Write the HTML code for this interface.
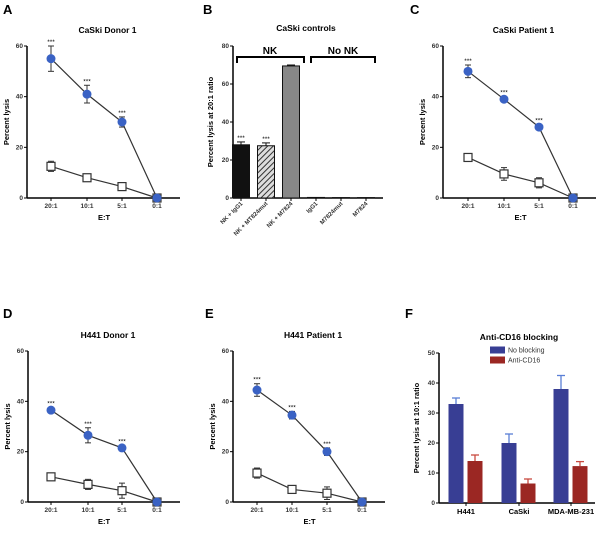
<!DOCTYPE html>
<html><head><meta charset="utf-8"><style>
body{margin:0;background:#fff;width:600px;height:534px;overflow:hidden}
svg{font-family:"Liberation Sans",sans-serif}
</style></head><body>
<svg id="fig" width="600" height="534" viewBox="0 0 600 534">
<defs><pattern id="hatch" width="4" height="4" patternUnits="userSpaceOnUse" patternTransform="rotate(45)"><rect width="4" height="4" fill="#ddd"/><line x1="0" y1="0" x2="0" y2="4" stroke="#333" stroke-width="2"/></pattern></defs>
</svg>
<script>
const etCats=["20:1","10:1","5:1","0:1"];
const aFilled=[55,41,30,0], aFilledErr=[5,3.5,2,0], aOpen=[12.5,8,4.5,0], aOpenErr=[2,1,1,0];
const cFilled=[50,39,28,0], cFilledErr=[2.5,1,1,0], cOpen=[16,9.5,6,0], cOpenErr=[1.5,2.5,2,0];
const dFilled=[36.5,26.5,21.5,0], dFilledErr=[1,3,1,0], dOpen=[10,7,4.5,0], dOpenErr=[1,2,3,0];
const eFilled=[44.5,34.5,20,0], eFilledErr=[2.5,1.5,1.5,0], eOpen=[11.5,5,3.5,0], eOpenErr=[2,1,2.5,0];
const lineTicks=[0,20,40,60];
const bCats=["NK + IgG1","NK + MT824mut","NK + M7824","IgG1","M7824mut","M7824"];
const bValues=[28,27.5,69.5,0.3,0.2,0.2], bErr=[1.5,1.5,0.5,0,0,0];
const bTicks=[0,20,40,60,80];
const fCats=["H441","CaSki","MDA-MB-231"];
const fNoBlock=[33,20,38], fNoBlockErr=[2,3,4.5];
const fAnti=[14,6.5,12.3], fAntiErr=[2,1.5,1.5];
const fTicks=[0,10,20,30,40,50];

const svg=document.getElementById('fig');
const NS="http://www.w3.org/2000/svg";
function el(tag,attrs,parent){const e=document.createElementNS(NS,tag);for(const k in attrs)e.setAttribute(k,attrs[k]);(parent||svg).appendChild(e);return e;}
function txt(s,attrs,parent){const t=el('text',attrs,parent);t.textContent=s;return t;}

function axes(g,x0,y0,yTop,xEnd,ticks,yMax,ylabel,ylx){
  const ys=v=>y0-(v/yMax)*(y0-yTop);
  const ya=el('line',{x1:x0,y1:yTop,x2:x0,y2:y0,stroke:'#000','stroke-width':1.5},g);
  
  const xa=el('line',{x1:x0,y1:y0,x2:xEnd,y2:y0,stroke:'#000','stroke-width':1.5},g);
  
  ticks.forEach(t=>{el('line',{x1:x0-3,y1:ys(t),x2:x0,y2:ys(t),stroke:'#000'},g);
    const l=txt(String(t),{x:x0-4,y:ys(t)+2,'font-size':6.5,'text-anchor':'end','font-weight':'bold','fill':'#333'},g);
    });
  const yl=txt(ylabel,{x:ylx,y:(y0+yTop)/2,'font-size':7.5,'font-weight':'bold','text-anchor':'middle',transform:`rotate(-90 ${ylx} ${(y0+yTop)/2})`},g);
  
  return ys;
}

function linePanel(name,letter,lx,ly,title,x0,y0,yTop,xs,filled,fe,open,oe){
  const g=el('g',{});
  const L=txt(letter,{x:lx,y:ly,'font-size':13,'font-weight':'bold'},g);
  const cx=(x0+xs[3]+23)/2+4;
  const T=txt(title,{x:cx,y:yTop-13,'font-size':8.5,'font-weight':'bold','text-anchor':'middle'},g);
  const ys=axes(g,x0,y0,yTop,xs[3]+23,lineTicks,60,'Percent lysis',x0-18);
  etCats.forEach((c,i)=>{el('line',{x1:xs[i],y1:y0,x2:xs[i],y2:y0+3,stroke:'#000'},g);
    const l=txt(c,{x:xs[i],y:y0+10,'font-size':6.5,'font-weight':'bold','text-anchor':'middle','fill':'#333'},g);});
  const xt=txt('E:T',{x:(xs[0]+xs[3])/2,y:y0+22,'font-size':7.5,'font-weight':'bold','text-anchor':'middle'},g);
  const lineO=el('polyline',{points:open.map((v,i)=>xs[i]+','+ys(v)).join(' '),fill:'none',stroke:'#333','stroke-width':1.2},g);
  
  const lineF=el('polyline',{points:filled.map((v,i)=>xs[i]+','+ys(v)).join(' '),fill:'none',stroke:'#333','stroke-width':1.2},g);
  
  open.forEach((v,i)=>{const e=oe[i];if(e>0){el('line',{x1:xs[i],y1:ys(v-e),x2:xs[i],y2:ys(v+e),stroke:'#333'},g);
      [v-e,v+e].forEach(w=>el('line',{x1:xs[i]-3,y1:ys(w),x2:xs[i]+3,y2:ys(w),stroke:'#333'},g));}
    const r=el('rect',{x:xs[i]-4,y:ys(v)-4,width:8,height:8,fill:'#fff',stroke:'#333','stroke-width':1.2},g);
    });
  filled.forEach((v,i)=>{const e=fe[i];if(e>0){el('line',{x1:xs[i],y1:ys(v-e),x2:xs[i],y2:ys(v+e),stroke:'#333'},g);
      [v-e,v+e].forEach(w=>el('line',{x1:xs[i]-3,y1:ys(w),x2:xs[i]+3,y2:ys(w),stroke:'#333'},g));}
    const c=el('circle',{cx:xs[i],cy:ys(v),r:4.5,fill:'#3a62c4'},g);
    if(i<3){const s=txt('***',{x:xs[i],y:ys(v+e)-2,'font-size':6.5,'text-anchor':'middle'},g);}});
}
linePanel('panel-a','A',3,14,'CaSki Donor 1',27,198,46,[51,87,122,157],aFilled,aFilledErr,aOpen,aOpenErr);
linePanel('panel-c','C',410,14,'CaSki Patient 1',443,198,46,[468,504,539,573],cFilled,cFilledErr,cOpen,cOpenErr);
linePanel('panel-d','D',3,318,'H441 Donor 1',28,502,351,[51,88,122,157],dFilled,dFilledErr,dOpen,dOpenErr);
linePanel('panel-e','E',205,318,'H441 Patient 1',233,502,351,[257,292,327,362],eFilled,eFilledErr,eOpen,eOpenErr);

// Panel B
(function(){
  const g=el('g',{});
  const L=txt('B',{x:203,y:14,'font-size':13,'font-weight':'bold'},g);
  const T=txt('CaSki controls',{x:306,y:31,'font-size':8.5,'font-weight':'bold','text-anchor':'middle'},g);
  const x0=233,y0=198,yTop=46;
  const ys=axes(g,x0,y0,yTop,383,bTicks,80,'Percent lysis at 20:1 ratio',x0-20);
  const bx=i=>241+i*25;
  const fills=['#111','url(#hatch)','#888','#888','#888','#888'];
  bCats.forEach((c,i)=>{
    const r=el('rect',{x:bx(i)-8.5,y:ys(bValues[i]),width:17,height:y0-ys(bValues[i]),fill:fills[i],stroke:'#111','stroke-width':1},g);
    
    if(bErr[i]>0){el('line',{x1:bx(i),y1:ys(bValues[i]),x2:bx(i),y2:ys(bValues[i]+bErr[i]),stroke:'#111'},g);
      el('line',{x1:bx(i)-4,y1:ys(bValues[i]+bErr[i]),x2:bx(i)+4,y2:ys(bValues[i]+bErr[i]),stroke:'#111'},g);}
    if(i<2){const s=txt('***',{x:bx(i),y:ys(bValues[i]+bErr[i])-2,'font-size':6.5,'text-anchor':'middle'},g);}
    el('line',{x1:bx(i),y1:y0,x2:bx(i),y2:y0+3,stroke:'#000'},g);
    const l=txt(c,{x:bx(i)+2,y:y0+6,'font-size':6,'font-weight':'bold','text-anchor':'end',fill:'#333',transform:`rotate(-45 ${bx(i)+2} ${y0+6})`},g);
    
  });
  const br1=el('path',{d:'M237,63 V57 H304 V63',fill:'none',stroke:'#000','stroke-width':2},g);
  const br2=el('path',{d:'M311,63 V57 H375 V63',fill:'none',stroke:'#000','stroke-width':2},g);
  const n1=txt('NK',{x:270,y:54,'font-size':10,'font-weight':'bold','text-anchor':'middle'},g);
  const n2=txt('No NK',{x:343,y:54,'font-size':10,'font-weight':'bold','text-anchor':'middle'},g);
})();

// Panel F
(function(){
  const g=el('g',{});
  const L=txt('F',{x:405,y:318,'font-size':13,'font-weight':'bold'},g);
  const T=txt('Anti-CD16 blocking',{x:519,y:340,'font-size':8.5,'font-weight':'bold','text-anchor':'middle'},g);
  const x0=439,y0=503,yTop=353;
  const ys=axes(g,x0,y0,yTop,595,fTicks,50,'Percent lysis at 10:1 ratio',x0-20);
  const cx=[466,519,571];
  fCats.forEach((c,i)=>{
    [[fNoBlock,fNoBlockErr,-10,'#383e94','#5a7fd6','no-blocking-bar'],[fAnti,fAntiErr,9,'#9b2723','#c84a40','anti-cd16-bar']].forEach(([vals,errs,off,col,ec,nm])=>{
      const x=cx[i]+off,v=vals[i],e=errs[i];
      el('line',{x1:x,y1:ys(v),x2:x,y2:ys(v+e),stroke:ec,'stroke-width':1.3},g);
      el('line',{x1:x-4,y1:ys(v+e),x2:x+4,y2:ys(v+e),stroke:ec,'stroke-width':1.3},g);
      const r=el('rect',{x:x-7.5,y:ys(v),width:15,height:y0-ys(v),fill:col},g);
      
    });
    el('line',{x1:cx[i],y1:y0,x2:cx[i],y2:y0+3,stroke:'#000'},g);
    const l=txt(c,{x:cx[i],y:y0+11,'font-size':7.5,'font-weight':'bold','text-anchor':'middle'},g);
    
  });
  [['No blocking','#383e94',350],['Anti-CD16','#9b2723',360]].forEach(([t,c,y])=>{
    const lg=el('g',{},g);
    el('rect',{x:490,y:y-3.5,width:15,height:7,fill:c},lg);
    txt(t,{x:508,y:y+2.5,'font-size':7,fill:'#333'},lg);
  });
})();
</script>
</body></html>
